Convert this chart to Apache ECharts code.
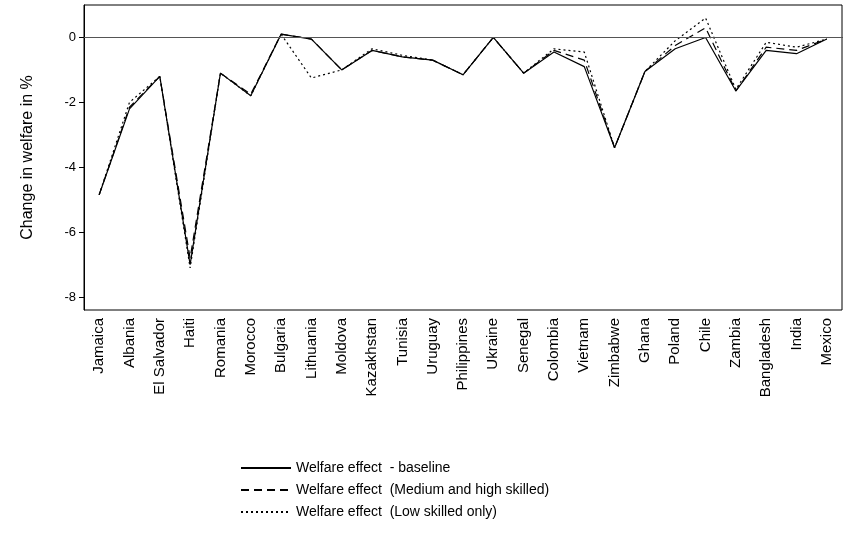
<!DOCTYPE html><html><head><meta charset="utf-8"><script src="https://cdn.jsdelivr.net/npm/echarts@6/dist/echarts.min.js"></script></head><body style="margin:0"><div id="c" style="width:845px;height:542px"></div><script>
const countries=["Jamaica","Albania","El Salvador","Haiti","Romania","Morocco","Bulgaria","Lithuania","Moldova","Kazakhstan","Tunisia","Uruguay","Philippines","Ukraine","Senegal","Colombia","Vietnam","Zimbabwe","Ghana","Poland","Chile","Zambia","Bangladesh","India","Mexico"];
const baseline=[-4.85,-2.2,-1.2,-7.0,-1.1,-1.8,0.1,-0.05,-1.0,-0.4,-0.6,-0.7,-1.15,0,-1.1,-0.45,-0.9,-3.4,-1.05,-0.35,0,-1.65,-0.4,-0.5,-0.05];
const medium=[-4.85,-2.15,-1.2,-6.8,-1.1,-1.75,0.1,-0.05,-1.0,-0.4,-0.6,-0.7,-1.15,0,-1.1,-0.4,-0.7,-3.4,-1.05,-0.25,0.3,-1.65,-0.3,-0.4,-0.05];
const low=[-4.85,-2.0,-1.2,-7.1,-1.1,-1.8,0.1,-1.25,-1.0,-0.35,-0.55,-0.7,-1.15,0,-1.1,-0.35,-0.45,-3.4,-1.05,-0.1,0.6,-1.6,-0.15,-0.3,-0.05];
const yTicks=[0,-2,-4,-6,-8];
const f='Liberation Sans, Arial, sans-serif';
const ch=echarts.init(document.getElementById('c'));
const mk=(n,d,t)=>({name:n,type:'line',data:d,symbol:'none',lineStyle:{color:'#000',width:1.2,type:t},itemStyle:{color:'#000'}});
ch.setOption({animation:false,
grid:{left:84,right:3,top:5,bottom:232,show:true,borderColor:'#000',borderWidth:1},
legend:{orient:'vertical',left:235,top:456,itemGap:8,itemWidth:50,itemHeight:10,itemStyle:{color:'transparent',borderWidth:0},textStyle:{fontFamily:f,fontSize:14,color:'#000'}},
xAxis:{type:'category',data:countries,boundaryGap:true,axisLine:{lineStyle:{color:'#000'}},axisTick:{alignWithLabel:true,lineStyle:{color:'#000'}},
 axisLabel:{rotate:90,interval:0,color:'#000',fontFamily:f,fontSize:15}},
yAxis:{type:'value',min:-8.4,max:1,name:'Change in welfare in %',nameLocation:'middle',nameGap:48,nameTextStyle:{fontFamily:f,fontSize:16,color:'#000'},
 axisLine:{show:true,lineStyle:{color:'#000'}},splitLine:{show:false},
 axisLabel:{color:'#000',fontFamily:f,fontSize:13,customValues:yTicks},
 axisTick:{show:true,customValues:yTicks,lineStyle:{color:'#000'}}},
series:[
 Object.assign(mk('Welfare effect  - baseline',baseline,'solid'),{markLine:{silent:true,symbol:'none',label:{show:false},lineStyle:{color:'#555',type:'solid',width:1},data:[{yAxis:0}]}}),
 mk('Welfare effect  (Medium and high skilled)',medium,[8,5]),
 mk('Welfare effect  (Low skilled only)',low,[2,3])
]});
</script></body></html>
